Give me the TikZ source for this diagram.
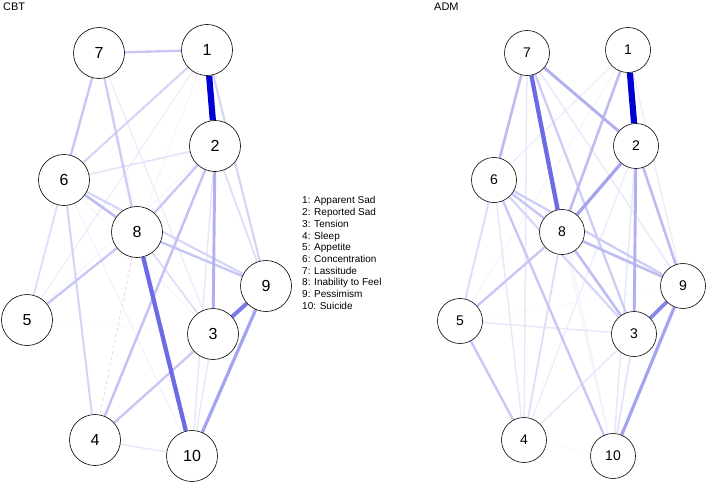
\documentclass[tikz,border=0pt]{standalone}
\usepackage{fontspec}
\setmainfont{Liberation Sans}
\usetikzlibrary{backgrounds}
\definecolor{edgeblue}{RGB}{0,0,210}
\definecolor{negpink}{RGB}{248,205,205}

\tikzset{
  symptom/.style={circle, draw=black, line width=0.6pt, fill=white, inner sep=0pt},
  cbtnode/.style={symptom, minimum size=51pt, font=\fontsize{16}{16}\selectfont},
  admnode/.style={symptom, minimum size=45pt, font=\fontsize{14}{14}\selectfont},
  link/.style={/utils/exec={\pgfmathtruncatemacro\shade{100*(#1/100)^1.25}},
               draw=edgeblue!\shade!white, line width={0.7pt+0.055pt*#1}},
  neglink/.style={draw=negpink, dashed, line width=0.8pt},
}

\begin{document}
\begin{tikzpicture}[x=1pt, y=-1pt]
\useasboundingbox (0,0) rectangle (708,484);

% panel titles
\node[anchor=base west, inner sep=0pt, font=\fontsize{11}{12}\selectfont] (cbttitle) at (3,10.5) {CBT};
\node[anchor=base west, inner sep=0pt, font=\fontsize{11}{12}\selectfont] (admtitle) at (434,10.5) {ADM};

% CBT network
\foreach \n/\x/\y in {1/207/50, 2/215/146, 3/213/334, 4/95/440, 5/27/320,
                      6/64/180, 7/99/53, 8/137/232, 9/266/286, 10/192/456}
  \node[cbtnode] (c\n) at (\x,\y) {\n};

% ADM network
\foreach \n/\x/\y in {1/628/50, 2/636/146, 3/634/334, 4/524/440, 5/460/321,
                      6/494/180, 7/527/53, 8/562/232, 9/683/286, 10/613/456}
  \node[admnode] (a\n) at (\x,\y) {\n};

\begin{scope}[on background layer]
  \foreach \a/\b/\w in {5/3/6, 2/5/8, 1/8/8, 7/10/8, 6/3/8, 6/10/10, 1/5/12, 7/3/12,
                        2/10/15, 3/10/15, 4/10/15, 2/6/18, 2/9/20, 6/5/20, 8/3/20,
                        1/6/25, 1/9/25, 6/4/25, 6/9/25, 7/8/28, 1/7/30, 7/6/30,
                        2/8/30, 8/9/30, 8/5/30, 3/4/30, 2/4/32, 6/8/35, 2/3/40,
                        9/10/45, 3/9/60, 8/10/65, 1/2/100}
    \draw[link=\w] (c\a) -- (c\b);
  \draw[neglink] (c8) -- (c4);

  \foreach \a/\b/\w in {4/10/5, 5/9/6, 1/5/8, 7/10/10, 7/5/10, 8/10/10, 1/6/12,
                        1/9/12, 2/4/12, 7/9/15, 7/4/15, 2/10/15, 6/4/15, 5/3/15,
                        3/4/15, 3/10/18, 6/5/20, 8/4/20, 6/3/25, 7/3/28, 6/9/28,
                        6/8/30, 6/10/30, 8/5/30, 5/4/30, 7/6/35, 1/8/35, 2/9/35,
                        8/3/35, 8/9/35, 7/2/40, 2/3/40, 2/8/45, 9/10/45, 3/9/55,
                        7/8/65, 1/2/100}
    \draw[link=\w] (a\a) -- (a\b);
\end{scope}

% legend
\node[anchor=north west, inner sep=0pt, align=left,
      font=\fontsize{10}{11.7}\selectfont] (legend) at (302,196.5) {
  1: Apparent Sad\\
  2: Reported Sad\\
  3: Tension\\
  4: Sleep\\
  5: Appetite\\
  6: Concentration\\
  7: Lassitude\\
  8: Inability to Feel\\
  9: Pessimism\\
  10: Suicide};
\end{tikzpicture}
\end{document}
